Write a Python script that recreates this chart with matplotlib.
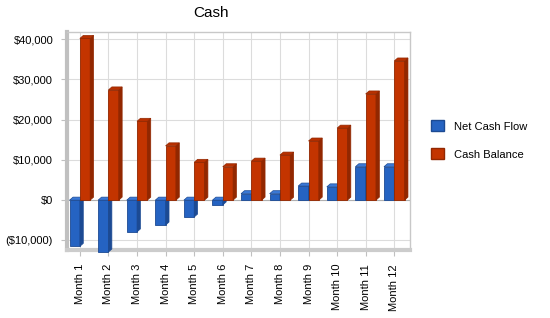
import numpy as np
import matplotlib
matplotlib.use("Agg")
import matplotlib.pyplot as plt
from matplotlib.patches import Polygon, Patch
from matplotlib.ticker import FuncFormatter

plt.rcParams['font.family'] = ['Liberation Sans', 'DejaVu Sans']

months = ["Month %d" % i for i in range(1, 13)]
net_cash_flow = [-11500, -12900, -7900, -6200, -4200, -1200, 1600, 1600, 3500, 3300, 8300, 8300]
cash_balance = [40200, 27400, 19600, 13500, 9400, 8300, 9700, 11200, 14700, 17900, 26400, 34600]

blue = ("#2563c2", "#1c4a93", "#3a78d6")
red = ("#c33400", "#922700", "#b83000")

w = 0.36
dx = 0.12
dy = 750


def fmt(v, pos):
    if v < 0:
        return "(${:,.0f})".format(-v)
    return "${:,.0f}".format(v)


def bars3d(ax, xs, vals, cols, z):
    ax.bar(xs, vals, width=w, align='edge', color=cols[0], edgecolor=cols[1],
           linewidth=0.6, zorder=z, clip_on=False)
    for x, v in zip(xs, vals):
        lo, hi = min(0, v), max(0, v)
        side = [(x + w, lo), (x + w + dx, lo + dy), (x + w + dx, hi + dy), (x + w, hi)]
        top = [(x, hi), (x + dx, hi + dy), (x + w + dx, hi + dy), (x + w, hi)]
        ax.add_patch(Polygon(side, closed=True, facecolor=cols[1], edgecolor=cols[1],
                             linewidth=0.5, zorder=z, clip_on=False))
        ax.add_patch(Polygon(top, closed=True, facecolor=cols[2], edgecolor=cols[1],
                             linewidth=0.5, zorder=z, clip_on=False))


fig = plt.figure(figsize=(5.5, 3.18), dpi=100)
ax = fig.add_axes([0.1218, 0.2138, 0.6236, 0.6855])

x = np.arange(len(months))
bars3d(ax, x - w, net_cash_flow, blue, 3)
bars3d(ax, x, cash_balance, red, 4)

ax.set_xlim(-0.45, 11.55)
ax.set_ylim(-12400, 41800)
ax.set_yticks([-10000, 0, 10000, 20000, 30000, 40000])
ax.yaxis.set_major_formatter(FuncFormatter(fmt))
ax.set_xticks(x)
ax.set_xticklabels(months, rotation=90, fontsize=8)
ax.tick_params(axis='y', labelsize=8, length=4, color='#c0c0c0', pad=6)
ax.tick_params(axis='x', length=4, color='#c0c0c0', pad=6)

ax.grid(True, color='#dcdcdc', linewidth=0.8, zorder=0)
ax.set_axisbelow(True)
ax.axhline(0, color='#b0b0b0', linewidth=0.8, zorder=2)

for s in ['top', 'right']:
    ax.spines[s].set_color('#c8c8c8')
    ax.spines[s].set_linewidth(1)
ax.spines['left'].set_color('#c0c0c0')
ax.spines['left'].set_linewidth(3)
ax.spines['bottom'].set_color('#cccccc')
ax.spines['bottom'].set_linewidth(3)

fig.text(0.384, 0.945, "Cash", fontsize=11, ha='center', va='baseline')

handles = [Patch(facecolor=blue[0], edgecolor=blue[1], label="Net Cash Flow"),
           Patch(facecolor=red[0], edgecolor=red[1], label="Cash Balance")]
fig.legend(handles=handles, loc='upper left', bbox_to_anchor=(0.766, 0.653),
           frameon=False, fontsize=8, handlelength=1.15, handleheight=1.15,
           handletextpad=0.9, labelspacing=1.5)

fig.savefig("out.png", dpi=100)
